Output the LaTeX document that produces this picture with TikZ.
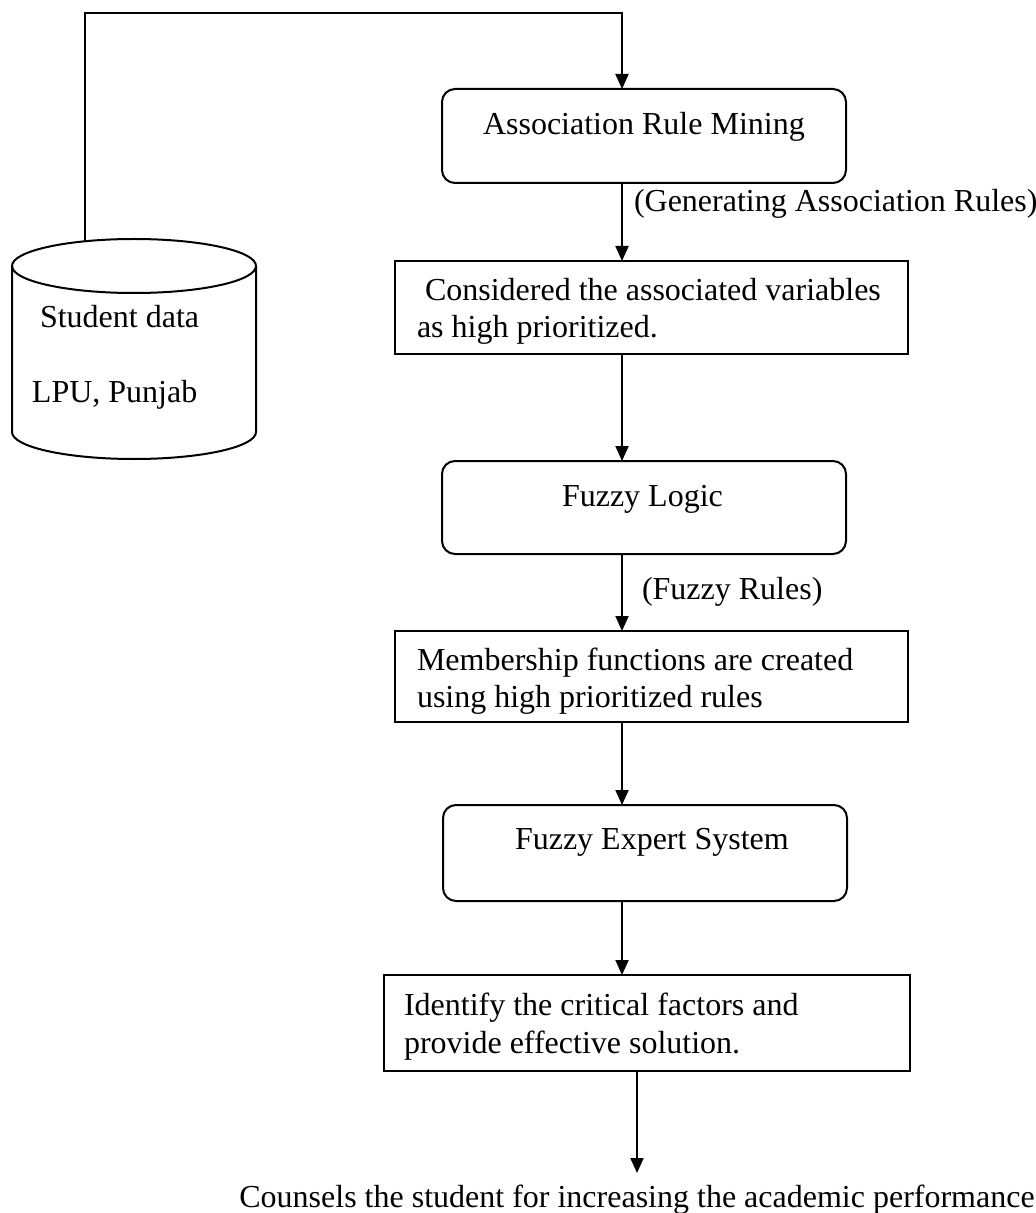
\documentclass[tikz,border=0pt]{standalone}
\usepackage{fontspec}
\setmainfont{Liberation Serif}
\usetikzlibrary{arrows.meta}
\begin{document}
\begin{tikzpicture}[x=0.5pt,y=-0.5pt,
  every node/.style={font=\fontsize{16}{18.5}\selectfont, inner sep=0pt, outer sep=0pt},
  flow/.style={line width=1pt, -{Triangle[length=7.5pt,width=6.5pt]}},
  roundbox/.style={draw, line width=1pt, rounded corners=6.5pt, minimum width=202pt},
  plainbox/.style={draw, line width=1pt},
  txt/.style={anchor=base west}]
\useasboundingbox (0,0) rectangle (1035,1213);

% database cylinder
\node[minimum width=122pt, minimum height=110pt] (db) at (134,349) {};
\draw[line width=1pt] (12,266) -- (12,432) arc[start angle=180, end angle=0, x radius=122, y radius=27] -- (256,266);
\draw[line width=1pt] (134,266) ellipse [x radius=122, y radius=27];
\node[txt] (dbt1) at (40,328) {Student data};
\node[txt] (dbt2) at (32,402) {LPU, Punjab};
\coordinate (dbtop) at (85,241);

% process boxes
\node[roundbox, minimum height=47pt] (b1) at (644,136) {};
\node[plainbox, minimum width=256.5pt, minimum height=46.5pt] (b2) at (651.5,307.5) {};
\node[roundbox, minimum height=46.5pt] (b3) at (644,507.5) {};
\node[plainbox, minimum width=256.5pt, minimum height=45.5pt] (b4) at (651.5,676.5) {};
\node[roundbox, minimum height=48pt] (b5) at (645,853) {};
\node[plainbox, minimum width=263pt, minimum height=48pt] (b6) at (647,1023) {};

% box texts
\node[txt] (t1) at (483,135) {Association Rule Mining};
\node[txt] (t2a) at (425,301) {Considered the associated variables};
\node[txt] (t2b) at (417,338) {as high prioritized.};
\node[txt] (t3) at (562,506) {Fuzzy Logic};
\node[txt] (t4a) at (417,670) {Membership functions are created};
\node[txt] (t4b) at (417,707) {using high prioritized rules};
\node[txt] (t5) at (515,849) {Fuzzy Expert System};
\node[txt] (t6a) at (404,1015) {Identify the critical factors and};
\node[txt] (t6b) at (404,1053) {provide effective solution.};

% connector labels
\node[txt] (l1) at (634,212) {(Generating Association Rules)};
\node[txt] (l2) at (642,599) {(Fuzzy Rules)};

% connector columns
\coordinate (c1) at (622,0);
\coordinate (c2) at (637,0);
\coordinate (bendA) at (85,13);
\coordinate (bendB) at (622,13);
\coordinate (endpt) at (637,1173);

% connectors
\draw[flow] (dbtop) -- (bendA) -- (bendB) -- (b1.north -| c1);
\draw[flow] (b1.south -| c1) -- (b2.north -| c1);
\draw[flow] (b2.south -| c1) -- (b3.north -| c1);
\draw[flow] (b3.south -| c1) -- (b4.north -| c1);
\draw[flow] (b4.south -| c1) -- (b5.north -| c1);
\draw[flow] (b5.south -| c1) -- (b6.north -| c1);
\draw[flow] (b6.south -| c2) -- (endpt);

% outcome
\node[anchor=base] (out) at (637,1207) {Counsels the student for increasing the academic performance};
\end{tikzpicture}
\end{document}
